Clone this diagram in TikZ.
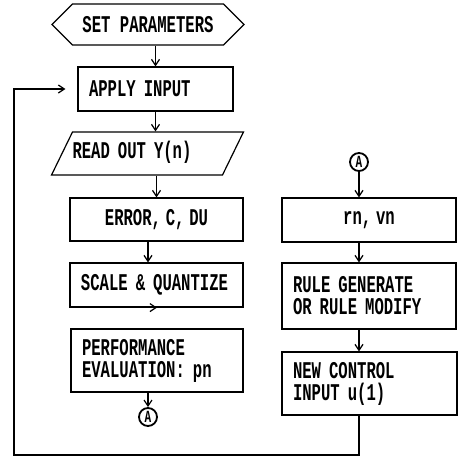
\documentclass[tikz,border=0pt]{standalone}
\usepackage{fontspec}
\newfontfamily\flowfont[FakeStretch=0.65]{Liberation Mono}
\usetikzlibrary{shapes.geometric}
\usetikzlibrary{shapes.symbols}
\usetikzlibrary{arrows.meta}
\pgfdeclarelayer{nodelayer}
\pgfdeclarelayer{edgelayer}
\pgfsetlayers{nodelayer,edgelayer,main}
\tikzset{
  every node/.style={font={\flowfont\bfseries\fontsize{24}{22}\selectfont\hyphenpenalty10000\relax}},
  box/.style={draw, line width=1.2pt, rectangle, inner xsep=11pt, inner ysep=0pt, align=left},
  hexbox/.style={draw, line width=1.2pt, signal, signal to=west and east, signal pointer angle=90, inner sep=0pt},
  iobox/.style={draw, line width=1.2pt, trapezium, trapezium stretches=true, trapezium left angle=64, trapezium right angle=116, inner xsep=0pt, inner ysep=11.5pt, text height=15pt, text depth=5pt, align=left},
  joint/.style={draw, circle, line width=1.8pt, minimum size=18pt, inner sep=0pt, font=\flowfont\bfseries\fontsize{17}{17}\selectfont},
  flow/.style={line width=1.2pt, -{Straight Barb[length=6pt, width=8pt, line width=1.2pt]}}
}

\begin{document}
\begin{tikzpicture}[x=10pt, y=10pt]
  \useasboundingbox (0, 0) rectangle (45.8, -45.9);
  \begin{pgfonlayer}{nodelayer}
    \node [hexbox, minimum width=192pt, minimum height=41pt] (0) at (14.8, -2.45) {SET PARAMETERS};
    \node [box, text width=133pt, minimum height=44pt] (1) at (15.55, -8.9) {APPLY INPUT};
    \node [iobox, text width=150pt] (2) at (14.75, -15.35) {READ OUT Y(n)};
    \node [box, align=center, text width=151pt, minimum height=43pt] (3) at (15.65, -21.95) {{\spaceskip=0.2em ERROR, C, DU}};
    \node [box, text width=151pt, minimum height=44pt] (4) at (15.65, -28.5) {SCALE \& QUANTIZE};
    \node [box, text width=150pt, minimum height=63pt] (5) at (15.7, -36.05) {PERFORMANCE\\EVALUATION: pn};
    \node [joint] (6) at (14.8, -41.7) {A};
    \node [joint] (7) at (35.9, -16.2) {A};
    \node [box, align=center, text width=152pt, minimum height=44pt] (8) at (36.9, -22.0) {{\spaceskip=0.2em rn, vn}};
    \node [box, text width=152pt, minimum height=66pt] (9) at (36.9, -29.6) {RULE GENERATE\\OR RULE MODIFY};
    \node [box, text width=153pt, minimum height=63pt] (10) at (36.95, -38.35) {NEW CONTROL\\INPUT u(1)};
    \coordinate (11) at (1.4, -45.5);
  \end{pgfonlayer}
  \begin{pgfonlayer}{edgelayer}
    \draw [flow] (1.north |- 0.south) to (1.north);
    \draw [flow] (1.south) to (1.south |- 2.north);
    \draw [flow] (3.north |- 2.south) to (3.north);
    \draw [flow] (3.south -| 6) to (4.north -| 6);
    \draw [flow] (4.south -| 6) to (5.south |- 4.south);
    \draw [flow] (5.south -| 6) to (6.north);
    \draw [flow] (7.south) to (8.north -| 7);
    \draw [flow] (8.south -| 7) to (9.north -| 7);
    \draw [flow] (9.south -| 7) to (10.north -| 7);
    \draw [flow, shorten >=12pt] (10.south -| 7) |- (11) |- (1.west);
  \end{pgfonlayer}
\end{tikzpicture}
\end{document}
